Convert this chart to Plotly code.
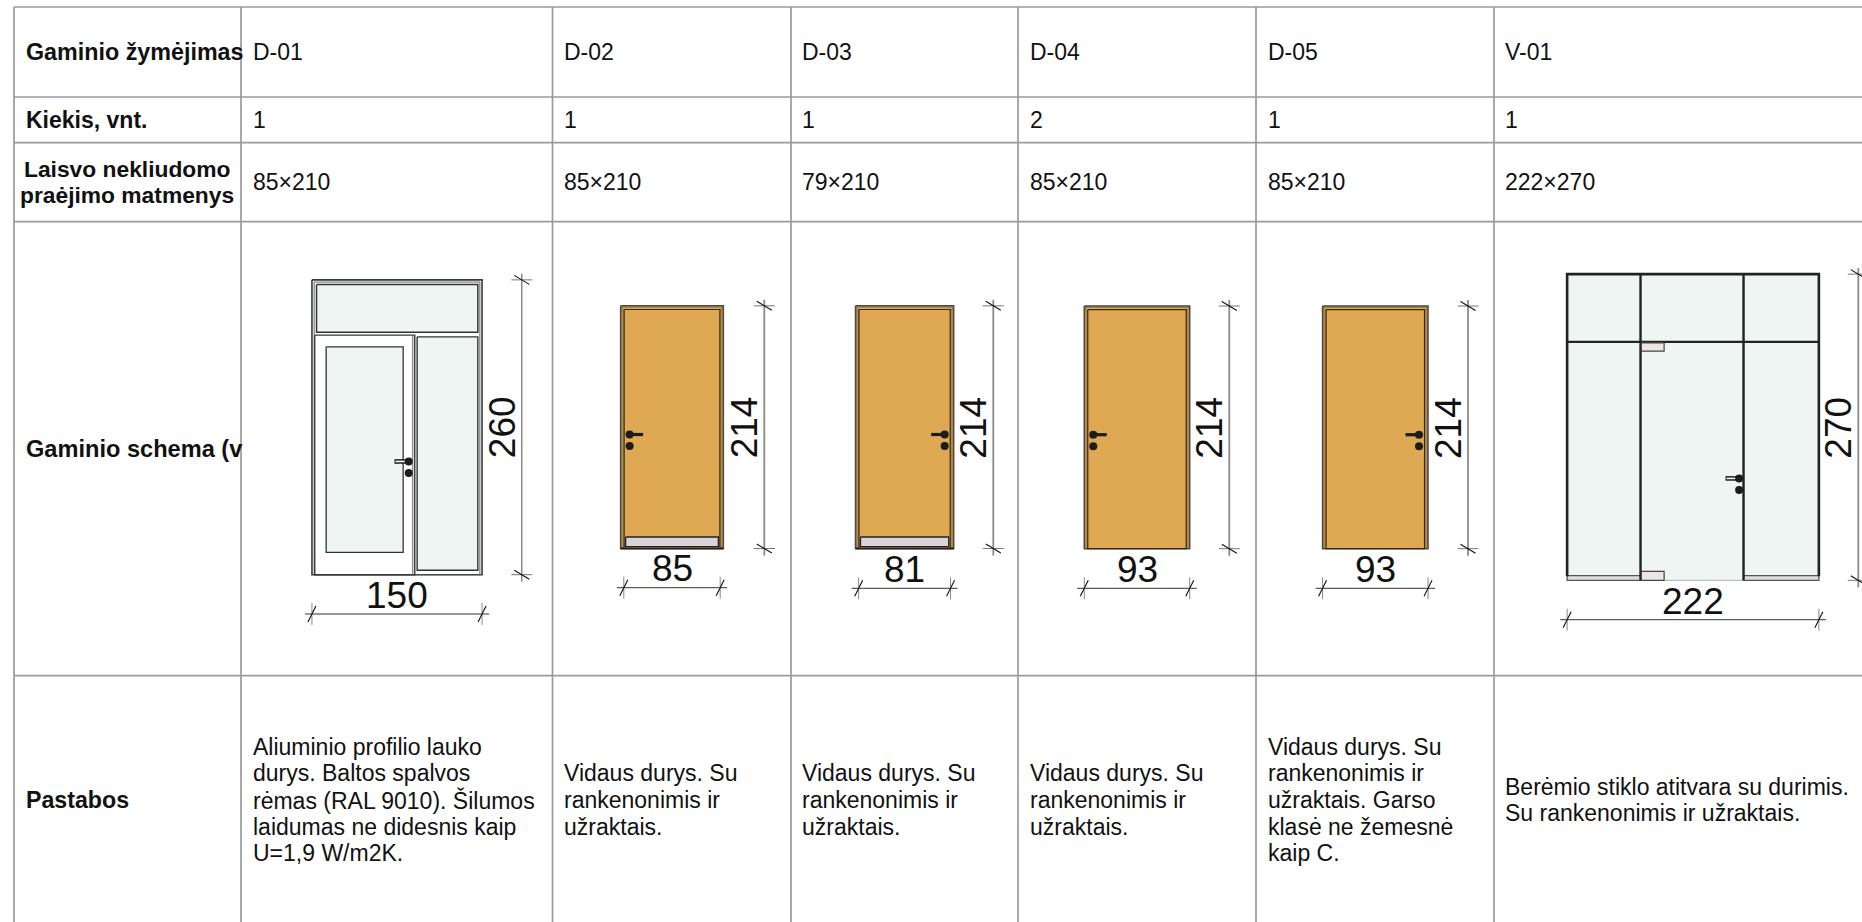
import plotly.graph_objects as go

# ---------- data ----------
PRODUCT_IDS = ["D-01", "D-02", "D-03", "D-04", "D-05", "V-01"]
QUANTITIES = ["1", "1", "1", "2", "1", "1"]
PASSAGE_SIZES = ["85×210", "85×210", "79×210", "85×210", "85×210", "222×270"]
DOOR_WIDTHS = [150, 85, 81, 93, 93, 222]
DOOR_HEIGHTS = [260, 214, 214, 214, 214, 270]
ROW_LABELS = ["Gaminio žymėjimas", "Kiekis, vnt.", "Gaminio schema (v", "Pastabos"]
ROW3_LABEL = ["Laisvo nekliudomo", "praėjimo matmenys"]
NOTES = [
    ["Aliuminio profilio lauko", "durys. Baltos spalvos", "rėmas (RAL 9010). Šilumos", "laidumas ne didesnis kaip", "U=1,9 W/m2K."],
    ["Vidaus durys. Su", "rankenonimis ir", "užraktais."],
    ["Vidaus durys. Su", "rankenonimis ir", "užraktais."],
    ["Vidaus durys. Su", "rankenonimis ir", "užraktais."],
    ["Vidaus durys. Su", "rankenonimis ir", "užraktais. Garso", "klasė ne žemesnė", "kaip C."],
    ["Berėmio stiklo atitvara su durimis.", "Su rankenonimis ir užraktais."],
]

# ---------- layout (page pixels) and style ----------
W, H = 1862, 922
S = 1.134                      # page pixels per centimetre of door
COL_EDGES = [14, 241, 552.5, 791, 1018, 1256, 1494]
ROW_EDGES = [7, 97, 142.7, 221.7, 675.7]
TEXT_X = [253, 564, 801.8, 1029.7, 1268, 1505.4]
ROW_Y = [52.3, 120, 182, 449.3, 800]
LINE_H = 26.6
FS = 23
DIM_FS = 37
GRID = "#9a9a9a"
INK = "#2b2b2b"
GLASS = "#eff5f2"
WOOD = "#dfa852"
JAMB = "#b88a42"
SILL = "#d9d4db"
HINGE = "#ede6e6"
FONT = "Liberation Sans"

DOOR_CENTER = [397, 672, 904.6, 1137, 1375.3, 1693]
DOOR_BOTTOM = [574.7, 548.5, 548.5, 548.7, 548.7, 580.3]
OUTER_EXTRA = [0, 5.6, 5.6, 0, 0, 0]       # frame outside the nominal width, cm
HAS_SILL = [False, True, True, False, False, False]
HANDLE_LEFT = [False, True, False, True, False, False]
DIM_V_X = [521.8, 764.3, 993.3, 1229.3, 1468, 1858.3]
DIM_V_TX = [502.5, 744.6, 974, 1210, 1448.3, 1839]
DIM_H_Y = [614, 587.7, 588.3, 588.3, 588.3, 619.7]
DIM_H_TY = [595, 568.3, 569.3, 569.3, 569.3, 601.7]


def c(v):
    """page pixels to axis centimetres"""
    return v / S


fig = go.Figure()
annotations = []


def path(xs, ys, color=INK, lw=1.2, fill=None):
    fig.add_trace(go.Scatter(
        x=[c(v) if v is not None else None for v in xs],
        y=[c(v) if v is not None else None for v in ys],
        mode="lines", line=dict(color=color, width=lw), hoverinfo="skip",
        showlegend=False, fill="toself" if fill else None, fillcolor=fill,
        connectgaps=False))


def rect(x0, y0, x1, y1, color=INK, lw=1.2, fill=None):
    path([x0, x1, x1, x0, x0], [y0, y0, y1, y1, y0], color, lw, fill)


def dots(xs, ys, size=7.5, color="#1c1c1c"):
    fig.add_trace(go.Scatter(
        x=[c(v) for v in xs], y=[c(v) for v in ys], mode="markers",
        marker=dict(size=size, color=color), hoverinfo="skip", showlegend=False))


def label(x, y, text, size=FS, bold=False, anchor="left", angle=0):
    annotations.append(dict(
        x=c(x), y=c(y), xref="x", yref="y", text=f"<b>{text}</b>" if bold else text,
        showarrow=False, xanchor=anchor, yanchor="middle", textangle=angle,
        borderpad=0, borderwidth=0, font=dict(family=FONT, size=size, color="#111111")))


def dim_vertical(x, y0, y1, thick=True):
    path([x, x], [y0 - 6, y1 + 7], "#8a8a8a" if thick else "#5f5f5f", 1.8 if thick else 1.1)
    for y in (y0, y1):
        path([x - 10.5, x + 10.5], [y, y], "#777777", 1)
        path([x - 7.5, x + 7.5], [y - 4.5, y + 4.5], "#111111", 1.1)


def dim_horizontal(y, x0, x1):
    path([x0 - 7, x1 + 7], [y, y], "#333333", 1)
    for x in (x0, x1):
        path([x, x], [y - 11, y + 11], "#8a8a8a", 1)
        path([x - 4, x + 4], [y + 8, y - 8], "#111111", 1.1)


def handle(x, y, bar_end, white=False):
    path([x, bar_end], [y, y], "#1c1c1c", 4.6 if white else 3.2)
    if white:
        path([x, bar_end + (1 if bar_end < x else -1)], [y, y], "#ffffff", 1.6)
    dots([x, x], [y, y + 11.5], 8)


# ---------- table grid ----------
gx, gy = [], []
for x in COL_EDGES:
    gx += [x, x, None]
    gy += [ROW_EDGES[0], H, None]
for y in ROW_EDGES:
    gx += [COL_EDGES[0], W, None]
    gy += [y, y, None]
path(gx, gy, GRID, 1.7)

# ---------- doors ----------
for i, (dw, dh) in enumerate(zip(DOOR_WIDTHS, DOOR_HEIGHTS)):
    cx, bottom = DOOR_CENTER[i], DOOR_BOTTOM[i]
    nominal = dw * S
    tall = dh * S
    top = bottom - tall
    outer = nominal + OUTER_EXTRA[i] * S
    left, right = cx - outer / 2, cx + outer / 2
    dim_x0, dim_x1 = cx - nominal / 2, cx + nominal / 2

    if i == 0:
        rect(left, top, right, bottom, "#3a3a3a", 1.6, "#ffffff")
        rect(left + 2.2, top + 2.2, right - 2.2, bottom, "#555555", 0.9)
        rect(left + 4.6, top + 4.6, right - 4.2, top + 52.3, "#333333", 1.5, GLASS)
        rect(left + 2.8, top + 55.3, left + 102.8, bottom, "#3a3a3a", 1.4, "#ffffff")
        path([left + 100.8, left + 100.8], [top + 55.3, bottom], "#666666", 1)
        rect(left + 14.2, top + 67, left + 91.2, bottom - 22.4, "#333333", 1.3, GLASS)
        rect(left + 105.2, top + 57, right - 4.2, bottom - 4.4, "#333333", 1.4, GLASS)
        handle(left + 96.8, top + 181.6, left + 82.5, white=True)
    elif i == 5:
        mid = top + 67.7
        p1, p2 = left + 73.4, left + 176.4
        rect(left, top, right, bottom, "#b0b0b0", 1, GLASS)
        rect(left, bottom - 4.6, p1, bottom, "#555555", 1.2, "#dedede")
        rect(p2, bottom - 4.6, right, bottom, "#555555", 1.2, "#dedede")
        path([left, left, right, right], [bottom - 4, top, top, bottom - 4], "#222222", 2.6)
        path([left, right], [mid, mid], "#222222", 2.2)
        path([p1, p1], [top, bottom], "#222222", 2.4)
        path([p2, p2], [top, bottom], "#222222", 2.4)
        rect(p1 + 0.8, mid + 1, p1 + 23.6, mid + 9.3, "#444444", 1.2, HINGE)
        rect(p1 + 0.8, bottom - 9, p1 + 23.6, bottom, "#444444", 1.2, HINGE)
        handle(p2 - 4.4, top + 204.3, p2 - 18, white=True)
    else:
        rect(left, top, right, bottom, "#4a4a4a", 1.5, JAMB)
        rect(left + 1.6, top + 1.4, right - 1.6, top + 4, "#8a6a30", 0.6, WOOD)
        rect(left + 3.5, top + 3.7, right - 3.5, bottom, "#33291c", 1.2, WOOD)
        if HAS_SILL[i]:
            rect(left + 5, bottom - 11.5, right - 5, bottom - 1.8, "#222222", 1.3, SILL)
            path([left, right], [bottom, bottom], "#222222", 2.2)
        if HANDLE_LEFT[i]:
            hx = left + 9
            handle(hx, bottom - 114, hx + 13.5)
        else:
            hx = right - 9
            handle(hx, bottom - 114, hx - 13.5)

    dim_vertical(DIM_V_X[i], top, bottom, thick=i > 0)
    dim_horizontal(DIM_H_Y[i], dim_x0, dim_x1)
    label(DIM_V_TX[i], 427.7, str(dh), DIM_FS, anchor="center", angle=-90)
    label(cx, DIM_H_TY[i], str(dw), DIM_FS, anchor="center")

# ---------- table text ----------
label(25.7, ROW_Y[0], ROW_LABELS[0], 23.3, bold=True)
label(25.7, ROW_Y[1], ROW_LABELS[1], bold=True)
label(127.3, ROW_Y[2] - LINE_H / 2, ROW3_LABEL[0], 22.8, bold=True, anchor="center")
label(127.3, ROW_Y[2] + LINE_H / 2 - 0.6, ROW3_LABEL[1], 22.8, bold=True, anchor="center")
label(25.7, ROW_Y[3], ROW_LABELS[2], 23.6, bold=True)
label(25.7, ROW_Y[4], ROW_LABELS[3], 23.2, bold=True)

for i, x in enumerate(TEXT_X):
    label(x, ROW_Y[0], PRODUCT_IDS[i])
    label(x, ROW_Y[1], QUANTITIES[i])
    label(x, ROW_Y[2], PASSAGE_SIZES[i])
    lines = NOTES[i]
    for j, line in enumerate(lines):
        label(x, ROW_Y[4] + (j - (len(lines) - 1) / 2) * LINE_H, line)

fig.update_layout(
    width=W, height=H, margin=dict(l=0, r=0, t=0, b=0), autosize=False,
    paper_bgcolor="#ffffff", plot_bgcolor="#ffffff", showlegend=False,
    xaxis=dict(range=[0, W / S], visible=False, fixedrange=True),
    yaxis=dict(range=[H / S, 0], visible=False, fixedrange=True),
    annotations=annotations,
)

fig.write_html(
    "out.html",
    config=dict(displayModeBar=False, responsive=False),
    post_script="document.body.style.margin='0';document.documentElement.style.overflow='hidden';",
)
